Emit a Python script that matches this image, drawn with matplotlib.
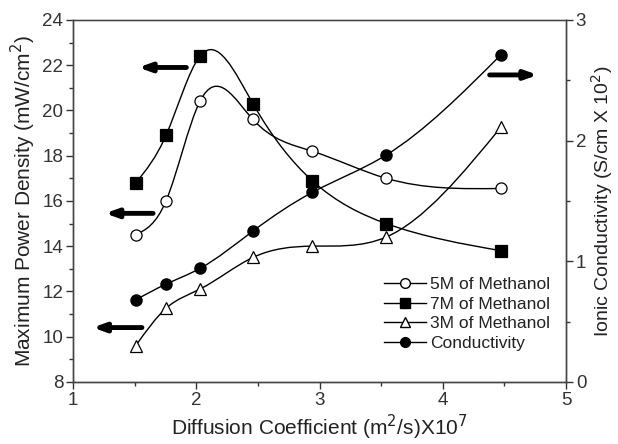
import numpy as np
import matplotlib
matplotlib.use('Agg')
import matplotlib.pyplot as plt
from matplotlib.path import Path
from matplotlib.patches import PathPatch
from matplotlib.lines import Line2D
from matplotlib.ticker import MultipleLocator

plt.rcParams['font.family'] = ['Liberation Sans', 'DejaVu Sans']

# diffusion coefficient (m2/s) x 1e7
diff = [1.51, 1.755, 2.03, 2.46, 2.94, 3.54, 4.47]
# maximum power density (mW/cm2)
p5m = [14.5, 16.0, 20.4, 19.6, 18.2, 17.0, 16.55]
p7m = [16.8, 18.9, 22.4, 20.3, 16.9, 15.0, 13.8]
p3m = [9.6, 11.25, 12.1, 13.5, 14.0, 14.4, 19.25]
# ionic conductivity (S/cm x 1e2)
cond = [0.68, 0.81, 0.94, 1.25, 1.57, 1.88, 2.71]


def spline_path(x, y):
    # natural cubic spline written as bezier segments
    x = np.asarray(x, float)
    y = np.asarray(y, float)
    n = len(x)
    h = np.diff(x)
    A = np.zeros((n, n))
    b = np.zeros(n)
    A[0, 0] = A[-1, -1] = 1
    for i in range(1, n - 1):
        A[i, i - 1] = h[i - 1]
        A[i, i] = 2 * (h[i - 1] + h[i])
        A[i, i + 1] = h[i]
        b[i] = 6 * ((y[i + 1] - y[i]) / h[i] - (y[i] - y[i - 1]) / h[i - 1])
    M = np.linalg.solve(A, b)
    m = np.zeros(n)
    m[:-1] = (y[1:] - y[:-1]) / h - h * (2 * M[:-1] + M[1:]) / 6
    m[-1] = (y[-1] - y[-2]) / h[-1] + h[-1] * (M[-2] + 2 * M[-1]) / 6
    verts = [(x[0], y[0])]
    codes = [Path.MOVETO]
    for i in range(n - 1):
        verts += [(x[i] + h[i] / 3, y[i] + m[i] * h[i] / 3),
                  (x[i + 1] - h[i] / 3, y[i + 1] - m[i + 1] * h[i] / 3),
                  (x[i + 1], y[i + 1])]
        codes += [Path.CURVE4] * 3
    return Path(verts, codes)


fig = plt.figure(figsize=(6.18, 4.44), dpi=100)
ax = fig.add_axes([0.118, 0.14, 0.798, 0.815])
ax2 = ax.twinx()

lw = 1.0
for y, mk, fc in [(p5m, 'o', 'white'), (p7m, 's', 'black'), (p3m, '^', 'white')]:
    ax.add_patch(PathPatch(spline_path(diff, y), fc='none', ec='black', lw=lw))
    ax.plot(diff, y, ls='none', marker=mk, mfc=fc, mec='black', ms=8, mew=0.9, zorder=3)
ax2.add_patch(PathPatch(spline_path(diff, cond), fc='none', ec='black', lw=lw))
ax2.plot(diff, cond, ls='none', marker='o', mfc='black', mec='black', ms=8, zorder=3)

ax.set_xlim(1, 5)
ax.set_ylim(8, 24)
ax2.set_ylim(0, 3)
ax.xaxis.set_major_locator(MultipleLocator(1))
ax.xaxis.set_minor_locator(MultipleLocator(0.5))
ax.yaxis.set_major_locator(MultipleLocator(2))
ax.yaxis.set_minor_locator(MultipleLocator(1))
ax2.yaxis.set_major_locator(MultipleLocator(1))
ax2.yaxis.set_minor_locator(MultipleLocator(0.5))
for a in (ax, ax2):
    a.tick_params(which='both', direction='out', labelsize=13.5, colors='#333333', width=1, pad=2)
    a.tick_params(which='major', length=5)
    a.tick_params(which='minor', length=3)
    for s in a.spines.values():
        s.set_color('#444444')
        s.set_linewidth(1.0)
ax.spines['top'].set_color('#888888')

ax.set_xlabel('Diffusion Coefficient (m$^2$/s)X10$^7$', fontsize=15, color='#222222', labelpad=3)
ax.set_ylabel('Maximum Power Density (mW/cm$^2$)', fontsize=15, color='#222222', labelpad=3)
ax2.set_ylabel('Ionic Conductivity (S/cm X 10$^2$)', fontsize=14, color='#222222', labelpad=2)

# direction arrows
arrows = [(1.92, 1.53, 21.9), (1.65, 1.26, 15.45), (1.56, 1.16, 10.4), (4.38, 4.77, 21.57)]
for x0, x1, yy in arrows:
    ax.annotate('', xy=(x1, yy), xytext=(x0, yy),
                arrowprops=dict(arrowstyle='-|>,head_length=0.7,head_width=0.25',
                                lw=3.5, color='black', shrinkA=0, shrinkB=0))

handles = [
    Line2D([], [], color='black', lw=lw, marker='o', mfc='white', mec='black', ms=7),
    Line2D([], [], color='black', lw=lw, marker='s', mfc='black', mec='black', ms=7),
    Line2D([], [], color='black', lw=lw, marker='^', mfc='white', mec='black', ms=7),
    Line2D([], [], color='black', lw=lw, marker='o', mfc='black', mec='black', ms=7),
]
labels = ['5M of Methanol', '7M of Methanol', '3M of Methanol', 'Conductivity']
ax2.legend(handles, labels, loc='upper left', bbox_to_anchor=(384 / 618, 1 - 277 / 444),
           bbox_transform=fig.transFigure, frameon=False, borderpad=0, borderaxespad=0,
           fontsize=12.5, handlelength=2.4, handletextpad=0.25, labelspacing=0.25,
           labelcolor='#222222')

fig.savefig('out.png', dpi=100)
